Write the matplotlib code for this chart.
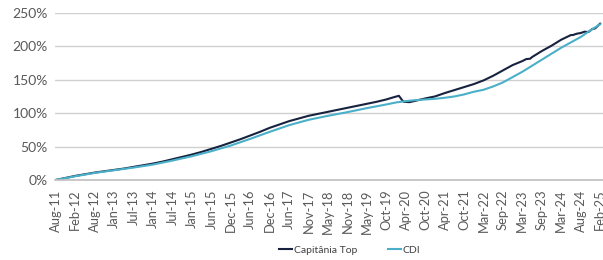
# coding:utf-8
# Capitânia Top x CDI - retorno acumulado
import numpy as np
from matplotlib import pyplot as plt

# rótulos do eixo x (um a cada intervalo da categoria)
x_labels = ["Aug-11", "Feb-12", "Aug-12", "Jan-13", "Jul-13", "Jan-14", "Jul-14",
            "Jan-15", "Jun-15", "Dec-15", "Jun-16", "Dec-16", "Jun-17", "Nov-17",
            "May-18", "Nov-18", "May-19", "Oct-19", "Apr-20", "Oct-20", "Apr-21",
            "Oct-21", "Mar-22", "Sep-22", "Mar-23", "Sep-23", "Mar-24", "Aug-24",
            "Feb-25"]

# posição (em unidades de rótulo) e retorno acumulado (%) - Capitânia Top
top_x = [0, 0.5, 1, 1.5, 2, 2.5, 3, 3.5, 4, 4.5, 5, 5.5, 6, 6.5, 7, 7.5, 8, 8.5,
         9, 9.5, 10, 10.5, 11, 11.5, 12, 12.5, 13, 13.5, 14, 14.5, 15, 15.5, 16,
         16.5, 17, 17.4, 17.65, 17.8, 17.9, 18.2, 18.5, 19, 19.5, 20, 20.5, 21,
         21.5, 22, 22.5, 23, 23.5, 24, 24.2, 24.4, 24.5, 25, 25.5, 26, 26.5,
         26.6, 26.8, 27.0, 27.2, 27.4, 27.6, 27.75, 28]
top_y = [0, 3, 6, 8.5, 11, 13, 15, 17, 19.5, 22, 24.5, 27.5, 31, 34.5, 38, 42,
         46.5, 51, 56, 61, 66.5, 72, 78, 83, 88, 92, 96, 99, 102, 105, 108, 111,
         114, 117, 120.5, 124, 126, 120, 117, 116.5, 118.5, 122, 125, 130, 134.5,
         139, 143.5, 149, 156, 164, 172, 178, 181, 181.5, 184, 193, 201, 210, 217,
         217, 219, 220, 222, 221.5, 226, 227, 234]

# CDI
cdi_x = [0, 1, 2, 3, 4, 5, 6, 7, 8, 9, 10, 11, 11.5, 12, 13, 14, 15, 16, 17,
         17.5, 18, 18.5, 19, 19.5, 20, 20.5, 21, 21.5, 22, 22.5, 23, 23.5, 24,
         24.5, 25, 25.5, 26, 26.5, 27, 27.5, 28]
cdi_y = [0, 5.5, 10.5, 14.5, 18.5, 23, 29, 35.5, 43, 51.5, 61.5, 72, 77, 82, 90,
         96, 101.5, 107.5, 113, 116, 118, 119.5, 120.5, 121.5, 123, 125, 128, 132,
         135, 140, 146, 154, 162, 171, 180, 189, 198, 206, 214, 224, 233]

y_ticks = [0, 50, 100, 150, 200, 250]

plt.rcParams['font.family'] = ['Lato', 'DejaVu Sans']

fig = plt.figure(figsize=(6.03, 2.60), dpi=100)
ax = fig.add_axes([0.091, 0.308, 0.909, 0.642])

ax.plot(top_x, top_y, color="#17223f", linewidth=1.5, label="Capitânia Top")
ax.plot(cdi_x, cdi_y, color="#4aafc8", linewidth=1.5, label="CDI")

ax.set_xlim(-0.05, 28.15)
ax.set_ylim(0, 250)
ax.set_yticks(y_ticks)
ax.set_yticklabels([str(v) + "%" for v in y_ticks], fontsize=10, color="#595959")
ax.set_xticks(np.arange(len(x_labels)))
ax.set_xticklabels(x_labels, rotation=90, fontsize=9.3, color="#595959")
ax.tick_params(axis="x", length=0, pad=7)
ax.tick_params(axis="y", length=0, pad=5)

# grade horizontal
ax.grid(axis="y", color="#d0d0d0", linewidth=1)
ax.set_axisbelow(True)
for s in ["top", "right", "left"]:
    ax.spines[s].set_visible(False)
ax.spines["bottom"].set_color("#bfbfbf")
ax.spines["bottom"].set_linewidth(1.2)

fig.legend(loc="lower center", bbox_to_anchor=(0.58, -0.015), ncol=2, frameon=False,
           fontsize=7.5, handlelength=1.2, handletextpad=0.2, columnspacing=3,
           labelcolor="#404040")

plt.savefig("out.png", dpi=100)
